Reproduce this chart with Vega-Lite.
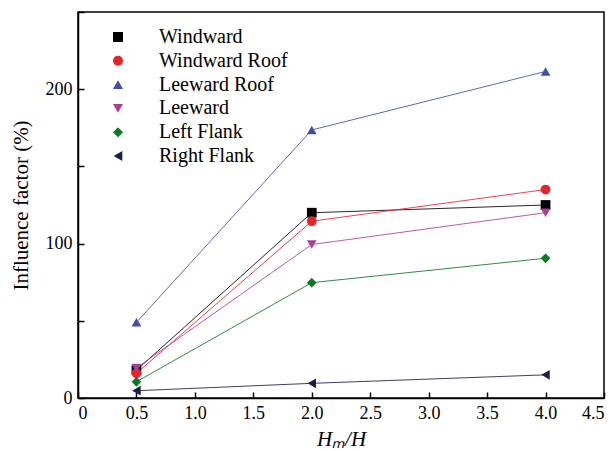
{
  "$schema": "https://vega.github.io/schema/vega-lite/v6.json",
  "autosize": {"type": "none"},
  "width": 526,
  "height": 386,
  "padding": {"left": 78, "top": 12, "right": 12, "bottom": 53},
  "background": "white",
  "config": {
    "view": {"stroke": "black", "strokeWidth": 1.5},
    "font": "Times New Roman, serif",
    "axis": {"grid": false, "domainColor": "black", "domainWidth": 1.5, "tickColor": "black", "tickWidth": 1.5, "labelColor": "black", "titleColor": "black", "labelFont": "Times New Roman, serif", "titleFont": "Times New Roman, serif", "labelFontSize": 18, "titleFontSize": 21, "titleFontWeight": "normal"},
    "legend": {"labelFont": "Times New Roman, serif", "labelFontSize": 20, "labelColor": "black"}
  },
  "data": {"values": [
    {"series": "Windward", "x": 0.5, "y": 18},
    {"series": "Windward", "x": 2.0, "y": 120},
    {"series": "Windward", "x": 4.0, "y": 125},
    {"series": "Windward Roof", "x": 0.5, "y": 16},
    {"series": "Windward Roof", "x": 2.0, "y": 114.5},
    {"series": "Windward Roof", "x": 4.0, "y": 135},
    {"series": "Leeward Roof", "x": 0.5, "y": 49},
    {"series": "Leeward Roof", "x": 2.0, "y": 173.6},
    {"series": "Leeward Roof", "x": 4.0, "y": 211.5},
    {"series": "Leeward", "x": 0.5, "y": 19.5},
    {"series": "Leeward", "x": 2.0, "y": 99.4},
    {"series": "Leeward", "x": 4.0, "y": 120},
    {"series": "Left Flank", "x": 0.5, "y": 10.5},
    {"series": "Left Flank", "x": 2.0, "y": 74.7},
    {"series": "Left Flank", "x": 4.0, "y": 90.5},
    {"series": "Right Flank", "x": 0.5, "y": 4.7},
    {"series": "Right Flank", "x": 2.0, "y": 9.5},
    {"series": "Right Flank", "x": 4.0, "y": 15}
  ]},
  "encoding": {
    "x": {"field": "x", "type": "quantitative", "scale": {"domain": [0, 4.5], "nice": false, "zero": false},
      "axis": {"values": [0, 0.5, 1, 1.5, 2, 2.5, 3, 3.5, 4, 4.5], "labelExpr": "datum.value == 0 ? '0' : format(datum.value, '.1f')", "tickSize": -6, "labelPadding": 12, "title": "Hₘ/H", "titleFontStyle": "italic", "titlePadding": 6}},
    "y": {"field": "y", "type": "quantitative", "scale": {"domain": [0, 250], "nice": false},
      "axis": {"values": [0, 50, 100, 150, 200, 250], "labelExpr": "datum.value % 100 == 0 && datum.value < 250 ? datum.label : ''", "tickSize": -6, "labelPadding": 12, "title": "Influence factor (%)", "titlePadding": 14}}
  },
  "layer": [
    {"mark": {"type": "line", "strokeWidth": 1, "opacity": 0.85},
      "encoding": {"stroke": {"field": "series", "type": "nominal", "legend": null,
        "sort": ["Windward", "Windward Roof", "Leeward Roof", "Leeward", "Left Flank", "Right Flank"],
        "scale": {"range": ["#000000", "#e3262b", "#4050aa", "#b03c98", "#0b7a22", "#1c1c50"]}}}},
    {"mark": {"type": "point", "filled": true, "size": 95, "opacity": 1},
      "encoding": {
        "color": {"field": "series", "type": "nominal",
          "scale": {"domain": ["Windward", "Windward Roof", "Leeward Roof", "Leeward", "Left Flank", "Right Flank"],
            "range": ["#000000", "#e3262b", "#4050aa", "#b03c98", "#0b7a22", "#1c1c50"]},
          "legend": {"title": null, "orient": "none", "legendX": 30, "legendY": 15, "padding": 0, "labelOffset": 31, "rowPadding": 3.8}},
        "shape": {"field": "series", "type": "nominal",
          "scale": {"domain": ["Windward", "Windward Roof", "Leeward Roof", "Leeward", "Left Flank", "Right Flank"],
            "range": ["square", "circle", "triangle-up", "triangle-down", "diamond", "triangle-left"]},
          "legend": {"title": null, "orient": "none", "legendX": 30, "legendY": 15, "padding": 0, "labelOffset": 31, "rowPadding": 3.8}}
      }}
  ]
}
